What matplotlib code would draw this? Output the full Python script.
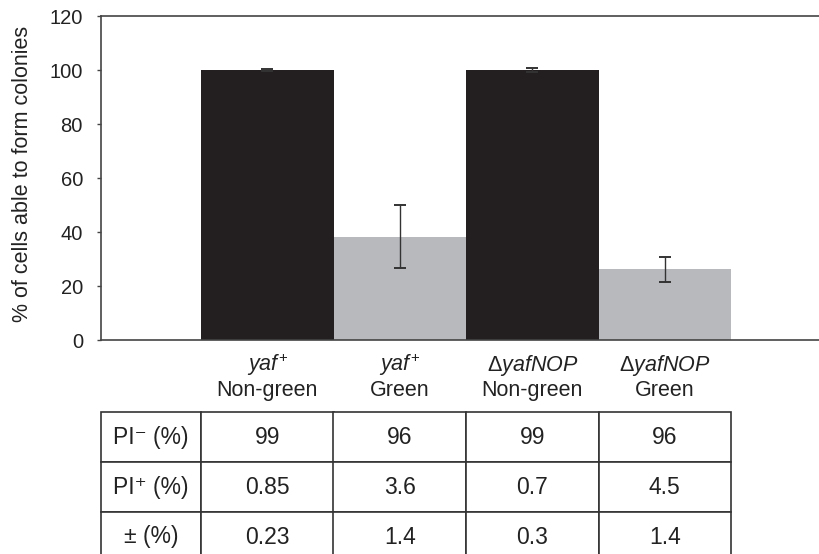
import matplotlib
matplotlib.use('Agg')
from matplotlib import pyplot as plt

plt.rcParams['font.family'] = ['Liberation Sans', 'DejaVu Sans']
plt.rcParams['mathtext.fontset'] = 'custom'
plt.rcParams['mathtext.rm'] = 'Liberation Sans'
plt.rcParams['mathtext.it'] = 'Liberation Sans:italic'

# bar data
strains = [r'$\mathit{yaf}^{+}$', r'$\mathit{yaf}^{+}$', r'$\Delta\mathit{yafNOP}$', r'$\Delta\mathit{yafNOP}$']
fractions = ['Non-green', 'Green', 'Non-green', 'Green']
colonies = [100, 38.3, 100, 26.2]
errors = [0.3, 11.7, 0.6, 4.6]
colors = ['#231f20', '#b8b9bc', '#231f20', '#b8b9bc']

# table data
row_names = [u'PI\u207b (%)', u'PI\u207a (%)', u'\u00b1 (%)']
pi_neg = ['99', '96', '99', '96']
pi_pos = ['0.85', '3.6', '0.7', '4.5']
pi_err = ['0.23', '1.4', '0.3', '1.4']

W, H = 820, 554
fig = plt.figure(figsize=(W/100, H/100), dpi=100)
ax = fig.add_axes([101/W, 1-340/H, 1-101/W, 324/H])

x = list(range(len(colonies)))
ax.bar(x, colonies, width=1.0, color=colors, edgecolor='none')
ax.errorbar(x, colonies, yerr=errors, fmt='none', ecolor='#333333',
            elinewidth=1.0, capsize=4, capthick=1.4)

ax.set_xlim(-1.255, 4.17)
ax.set_ylim(0, 120)
ax.set_yticks(range(0, 121, 20))
ax.tick_params(axis='y', labelsize=14.5, length=3, width=1, pad=10,
               color='#444444', labelcolor='#222222')
ax.set_xticks([])
for s in ['left', 'bottom', 'top']:
    ax.spines[s].set_color('#444444')
    ax.spines[s].set_linewidth(1.2)
ax.spines['right'].set_visible(False)
ax.set_ylabel('% of cells able to form colonies', fontsize=15.5, color='#222222')
ax.yaxis.set_label_coords(-(101-33)/719, 0.514)

# two-line category labels under the bars
for i in x:
    ax.text(i, -11.3, strains[i], ha='center', va='baseline', fontsize=15.5, color='#222222')
    ax.text(i, -20.8, fractions[i], ha='center', va='baseline', fontsize=15.5, color='#222222')

cells = [[row_names[0]] + pi_neg,
         [row_names[1]] + pi_pos,
         [row_names[2]] + pi_err]
tw = 731 - 101
tbl = ax.table(cellText=cells, cellLoc='center',
               colWidths=[100/tw] + [132.5/tw]*4,
               bbox=[0, (340-562)/324, tw/719, 150/324])
tbl.auto_set_font_size(False)
tbl.set_fontsize(16.5)
for (r, c), cell in tbl.get_celld().items():
    cell.set_edgecolor('#333333')
    cell.set_linewidth(1.2)
    cell.get_text().set_color('#222222')

fig.savefig('out.png', dpi=100)
